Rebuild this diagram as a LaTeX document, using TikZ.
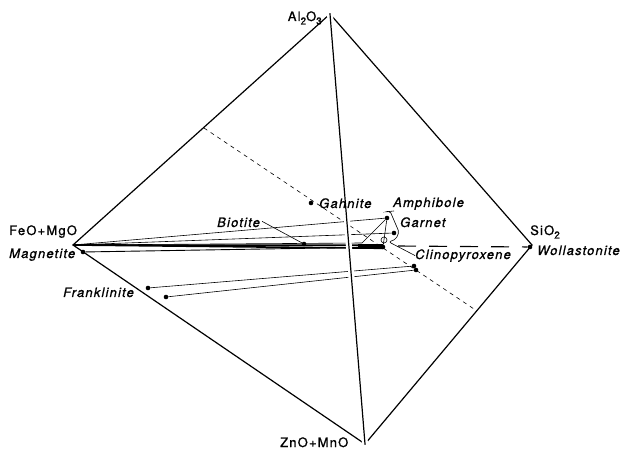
\documentclass[tikz,border=0pt]{standalone}
\usepackage{fontspec}
\newfontfamily\lblfont{TeX Gyre Heros}[LetterSpace=9,FakeBold=1]
\begin{document}
\begin{tikzpicture}[x=1pt,y=-1pt,
  edge/.style={line width=1.2pt,line cap=round},
  tie/.style={line width=0.6pt},
  band/.style={line width=1.6pt},
  hidden/.style={line width=1.1pt,dash pattern=on 18pt off 13pt},
  section/.style={line width=0.6pt,dash pattern=on 4pt off 4pt},
  dot/.style={circle,fill=black,inner sep=0pt,minimum size=4.6pt},
  lab/.style={font=\lblfont\fontsize{13}{15}\selectfont\itshape,inner sep=0pt},
  oxide/.style={font=\lblfont\fontsize{13}{15}\selectfont,inner sep=0pt}]
\useasboundingbox (0,0) rectangle (622,449);

% corners of the tetrahedron
\coordinate (A) at (330,14);
\coordinate (F) at (73,245);
\coordinate (S) at (532,245);
\coordinate (Z) at (365,444);

% plane of section (dashed)
\coordinate (P1) at (204,128);
\coordinate (P2) at (477,311);
\draw[section] (P1) -- (P2);

% mineral points
\node[dot] (mag) at (83,252) {};
\node[dot] (fr1) at (148,288) {};
\node[dot] (fr2) at (166,297) {};
\node[dot] (fr1e) at (414,266) {};
\node[dot] (fr2e) at (416,270) {};
\node[dot] (bio) at (304,244) {};
\node[dot] (gah) at (311,203) {};
\node[dot] (amph) at (387,218) {};
\node[dot] (gar) at (394,233) {};
\node[dot] (cpx) at (383,247) {};
\node[dot] (wol) at (530,247) {};
\coordinate (barL) at (362,243);

% tie lines
\draw[tie] (F) -- (amph);
\draw[tie] (F) -- (gar);
\draw[tie] (amph) -- (barL);
\draw[tie] (amph) -- (cpx);
\draw[band] (F) -- (383,245.3);
\draw[band] (F) -- (383,248.3);
\draw[tie] (F) -- (barL);
\draw[line width=0.9pt] (mag) -- (cpx);
\fill (358,244) rectangle (383,249.5);
\draw[tie] (fr1) -- (fr1e);
\draw[tie] (fr2) -- (fr2e);
\draw[tie] (384,240) circle (3);

% hidden base edge
\draw[hidden] (398,246) -- (wol);

% visible edges
\draw[edge] (A) -- (F) -- (Z) -- (S) -- cycle;
\draw[white,line width=6pt] (A) -- (Z);
\draw[edge] (A) -- (Z);

% labels
\node[oxide,anchor=base east] (tA) at (322,21) {Al\raisebox{-3.5pt}{\fontsize{10}{10}\selectfont 2}O\raisebox{-3.5pt}{\fontsize{10}{10}\selectfont 3}};
\node[oxide,anchor=base west] (tF) at (9,235) {FeO+MgO};
\node[oxide,anchor=base west] (tS) at (530,235) {SiO\raisebox{-3.5pt}{\fontsize{10}{10}\selectfont 2}};
\node[oxide,anchor=base west] (tZ) at (280,447) {ZnO+MnO};
\node[lab,anchor=base west] (tMag) at (9,258) {Magnetite};
\node[lab,anchor=base west] (tFr) at (63,297) {Franklinite};
\node[lab,anchor=base west] (tBio) at (217,227) {Biotite};
\node[lab,anchor=base west] (tGah) at (319,208) {Gahnite};
\node[lab,anchor=base west] (tAmph) at (393,207) {Amphibole};
\node[lab,anchor=base west] (tGar) at (400,227) {Garnet};
\node[lab,anchor=base west] (tCpx) at (415,259) {Clinopyroxene};
\node[lab,anchor=base west] (tWol) at (537,255) {Wollastonite};

% leaders
\draw[tie] (tBio.east) ++(2,-1) -- (bio);
\draw[tie,rounded corners=2pt] (tAmph.south west) ++(1,1) -- (385,212) -- (390,211) -- (399,232) -- (396,239) -- (389,242) -- (tCpx.west);
\end{tikzpicture}
\end{document}
